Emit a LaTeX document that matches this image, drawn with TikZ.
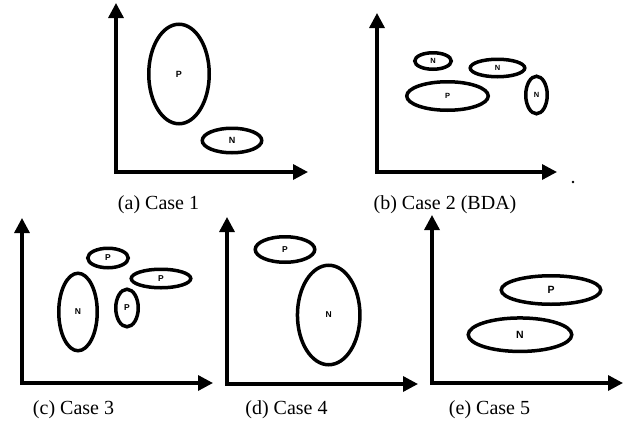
\documentclass[tikz,border=0pt]{standalone}
\usepackage{fontspec}
\setmainfont{Liberation Serif}
\newfontfamily\lblfont{Liberation Sans}
\usetikzlibrary{shapes.geometric,arrows.meta}
\tikzset{
  axisline/.style={line width=3.3pt, line join=miter,
    {Triangle[length=15pt,width=15pt]}-{Triangle[length=15pt,width=15pt]}},
  blob/.style={ellipse, draw, line width=3.5pt, inner sep=0pt,
    font=\lblfont\bfseries\fontsize{#1}{#1}\selectfont},
  blob/.default=7,
  captext/.style={anchor=base, inner sep=0pt, font=\fontsize{20}{24}\selectfont},
}
\begin{document}
\begin{tikzpicture}[x=1pt,y=-1pt]
\useasboundingbox (0,0) rectangle (633,421);
% ---------- (a) ----------
\coordinate (ao) at (116,172);
\coordinate (ay) at (116,3);
\coordinate (ax) at (308,172);
\draw[axisline] (ay) -- (ao) -- (ax);
\node[blob=9, minimum width=60.5pt, minimum height=99.5pt] (aP) at (179,74) {P};
\node[blob=9, minimum width=59.5pt, minimum height=24.5pt] (aN) at (232,140.5) {N};
\node[captext] (acap) at (158.5,209) {(a) Case 1};
% ---------- (b) ----------
\coordinate (bo) at (377,172);
\coordinate (by) at (377,13);
\coordinate (bx) at (557,172);
\draw[axisline] (by) -- (bo) -- (bx);
\node[blob=7.5, minimum width=36.5pt, minimum height=16.5pt] (bN1) at (433,61) {N};
\node[blob=7.5, minimum width=54.5pt, minimum height=17.5pt] (bN2) at (497.5,68) {N};
\node[blob=7.5, minimum width=81.5pt, minimum height=28.5pt] (bP) at (447.5,96) {P};
\node[blob=7.5, minimum width=21.5pt, minimum height=37.5pt] (bN3) at (536.5,95) {N};
\fill (573,182) circle (1.3pt);
\node[captext] (bcap) at (445,209) {(b) Case 2 (BDA)};
% ---------- (c) ----------
\coordinate (co) at (22,383);
\coordinate (cy) at (22,218);
\coordinate (cx) at (213,383);
\draw[axisline] (cy) -- (co) -- (cx);
\node[blob=8.5, minimum width=40.5pt, minimum height=19.5pt] (cP1) at (108,258) {P};
\node[blob=8.5, minimum width=59.5pt, minimum height=18.5pt] (cP2) at (161,278.5) {P};
\node[blob=8.5, minimum width=38.5pt, minimum height=77.5pt] (cN) at (78,312) {N};
\node[blob=8.5, minimum width=22.5pt, minimum height=37.5pt] (cP3) at (127,308) {P};
\node[captext] (ccap) at (73.5,414) {(c) Case 3};
% ---------- (d) ----------
\coordinate (do) at (227,384);
\coordinate (dy) at (227,217);
\coordinate (dx) at (418,384);
\draw[axisline] (dy) -- (do) -- (dx);
\node[blob=8.5, minimum width=59.5pt, minimum height=25.5pt] (dP) at (285,249.5) {P};
\node[blob=8.5, minimum width=62.5pt, minimum height=99.5pt] (dN) at (328.7,315) {N};
\node[captext] (dcap) at (286.5,414) {(d) Case 4};
% ---------- (e) ----------
\coordinate (eo) at (432,383);
\coordinate (ey) at (432,215);
\coordinate (ex) at (623,383);
\draw[axisline] (ey) -- (eo) -- (ex);
\node[blob=10.5, minimum width=99.5pt, minimum height=28.5pt] (eP) at (551,290) {P};
\node[blob=10.5, minimum width=103.5pt, minimum height=33.5pt] (eN) at (520,334.7) {N};
\node[captext] (ecap) at (489.5,414) {(e) Case 5};
\end{tikzpicture}
\end{document}
